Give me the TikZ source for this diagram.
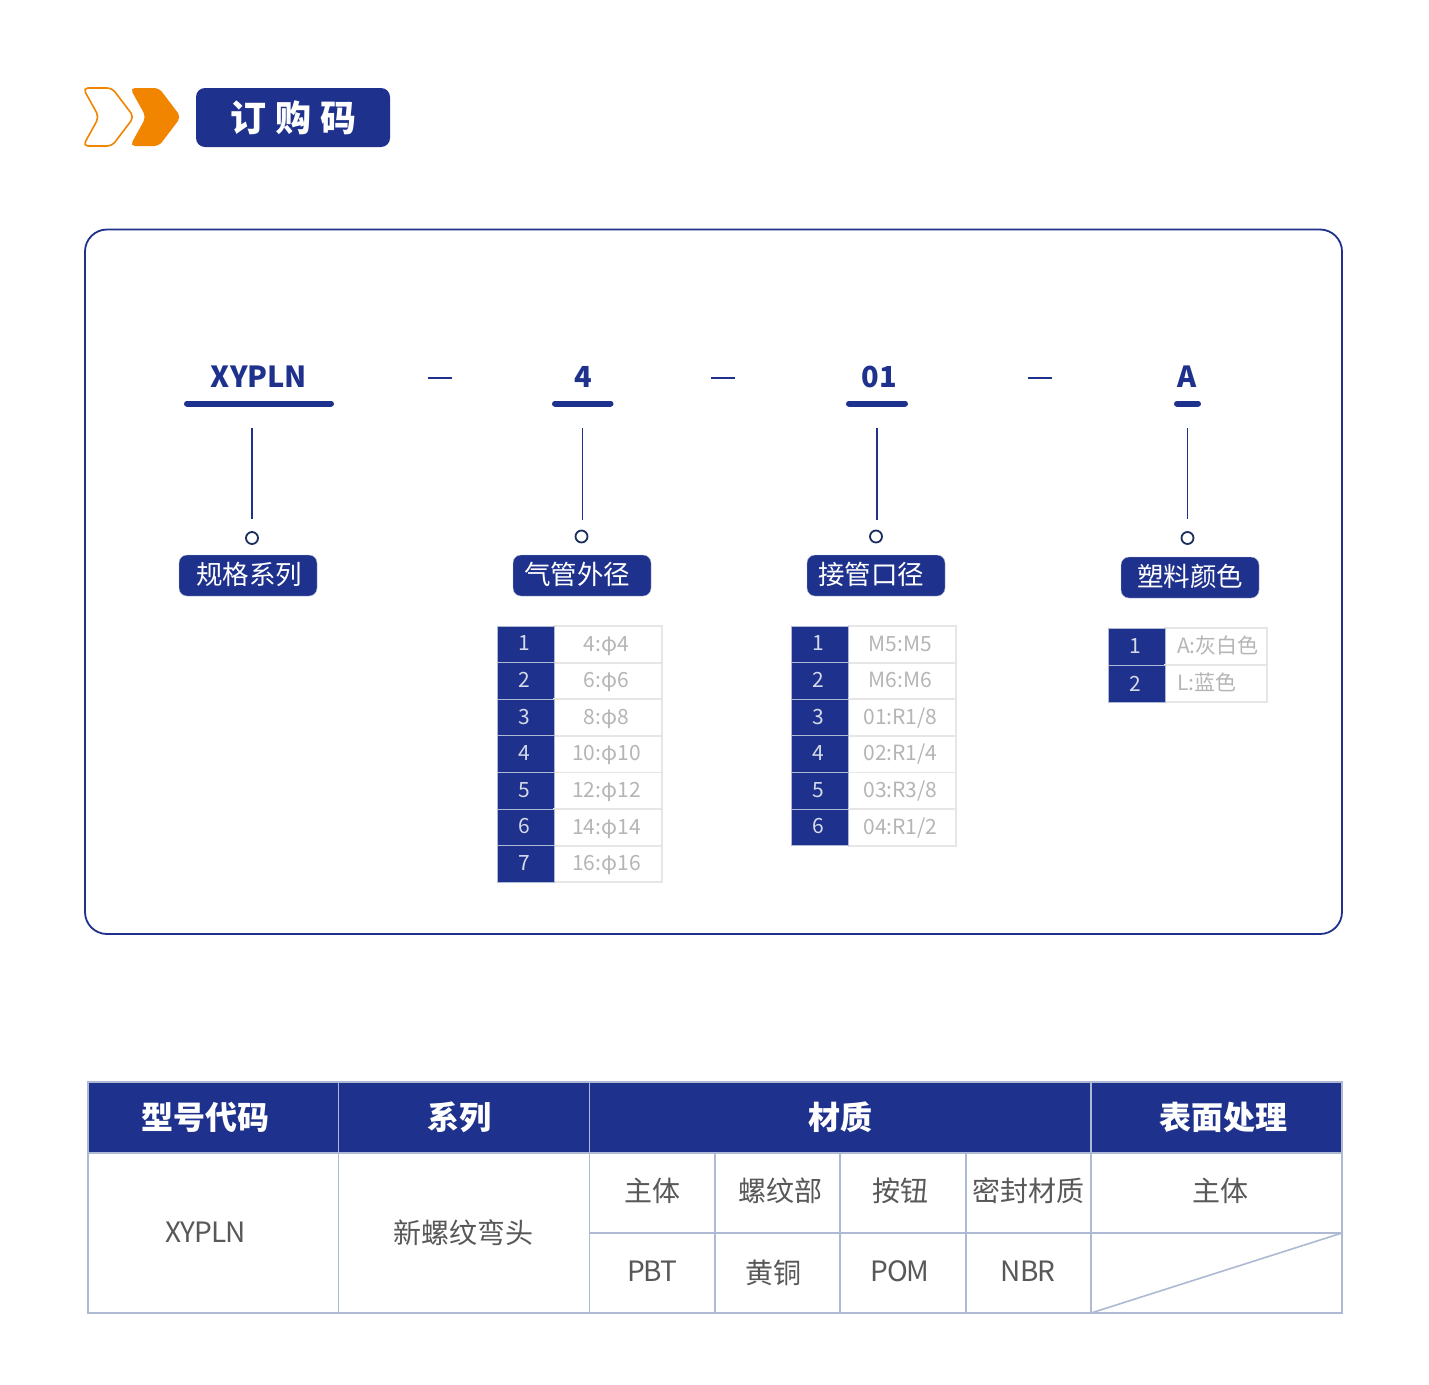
\documentclass[tikz,border=0pt]{standalone}
\usepackage{fontspec}
\setmainfont{Noto Sans CJK SC}
\usepackage{xcolor}
\usetikzlibrary{positioning}
\definecolor{navy}{HTML}{1E318C}
\definecolor{accent}{HTML}{F28500}
\definecolor{gridline}{HTML}{AEB9D4}
\definecolor{cellline}{HTML}{E6E6E6}
\definecolor{valuegray}{HTML}{B5B5B5}
\definecolor{bodygray}{HTML}{595757}
\definecolor{digitgray}{HTML}{D5DAEA}
\definecolor{dotline}{HTML}{1B2F5E}
\tikzset{
  code/.style={text=navy, inner sep=0pt, font=\fontsize{29}{29}\selectfont\bfseries},
  codebar/.style={draw=navy, line width=6pt, line cap=round},
  sep/.style={draw=navy, line width=1.6pt},
  stem/.style={draw=navy, line width=1.6pt},
  dot/.style={circle, draw=dotline, line width=1.8pt, minimum size=12pt, inner sep=0pt},
  tag/.style={fill=navy, draw=gridline, line width=0.4pt, rounded corners=8pt, minimum width=138pt, minimum height=41pt, inner sep=0pt},
  tagtext/.style={text=white, inner sep=0pt, font=\fontsize{26.5}{28}\selectfont},
  digit/.style={text=digitgray, inner sep=0pt, font=\fontsize{21}{21}\selectfont},
  value/.style={text=valuegray, inner sep=0pt, text height=15pt, text depth=0pt, font=\fontsize{21}{21}\selectfont},
  head/.style={text=white, inner sep=0pt, font=\fontsize{32}{32}\selectfont\bfseries},
  body/.style={text=bodygray, inner sep=0pt, font=\fontsize{28}{28}\selectfont},
  latin/.style={body, font=\fontsize{28}{28}\selectfont\addfontfeature{LetterSpace=-4}},
  grid/.style={draw=gridline, line width=1.6pt},
}
\begin{document}
\begin{tikzpicture}[x=1pt, y=-1pt]
\useasboundingbox [fill=white] (0,0) rectangle (1429,1384);

\draw [accent, line width=1.6pt, rounded corners=5pt] (83,88) -- (112,88) -- (134,117) -- (112,146) -- (83,146) -- (99,117) -- cycle;
\fill [accent, rounded corners=5pt] (130,88) -- (159,88) -- (181,117) -- (159,146) -- (130,146) -- (146,117) -- cycle;
\node (title) at (293,117.5) [fill=navy, rounded corners=9pt, minimum width=194pt, minimum height=59pt, inner sep=0pt, text=white, font=\fontsize{36}{36}\selectfont\bfseries] {订\hspace{9pt}购\hspace{9pt}码};

\draw [navy, line width=1.8pt, rounded corners=22pt] (85,229.5) rectangle (1342,934);

\node (codeA) at (259,377) [code] {XYPLN};
\node (codeB) at (583,377) [code] {4};
\node (codeC) at (879,377) [code] {01};
\node (codeD) at (1187.5,377) [code] {A};

\draw [codebar] (187,403.5) -- (331,403.5);
\draw [codebar] (555,403.5) -- (610.5,403.5);
\draw [codebar] (849,403.5) -- (905,403.5);
\draw [codebar] (1177,403.5) -- (1198,403.5);

\draw [sep] (428,378) -- (452,378);
\draw [sep] (711,378) -- (735,378);
\draw [sep] (1028,378) -- (1052,378);

\coordinate (topA) at (252,428);
\coordinate (topB) at (582.5,428);
\coordinate (topC) at (877,428);
\coordinate (topD) at (1187.5,428);
\node (dotA) at (252,538) [dot] {};
\node (dotB) at (581.5,536.5) [dot] {};
\node (dotC) at (876,536.5) [dot] {};
\node (dotD) at (1187.5,538) [dot] {};
\draw [stem] (topA) -- ([yshift=12pt]dotA.north);
\draw [stem] (topB) -- ([xshift=1pt,yshift=10pt]dotB.north);
\draw [stem] (topC) -- ([xshift=1pt,yshift=10pt]dotC.north);
\draw [stem] (topD) -- ([yshift=12pt]dotD.north);

\node (tagA) at (248,575.5) [tag] {};
\node (tagB) at (582,575.5) [tag] {};
\node (tagC) at (876,575.5) [tag] {};
\node (tagD) at (1190,577.5) [tag] {};
\node (tagtextA) at (249,574) [tagtext] {规格系列};
\node (tagtextB) at (577,574) [tagtext] {气管外径};
\node (tagtextC) at (871,574) [tagtext] {接管口径};
\node (tagtextD) at (1190,576) [tagtext] {塑料颜色};

\foreach \val [count=\n, evaluate=\n as \top using 626+36.6*(\n-1)] in {4:φ4,6:φ6,8:φ8,10:φ10,12:φ12,14:φ14,16:φ16} {
  \draw [cellline, line width=1.8pt] (554,\top) rectangle (662,\top+36.6);
  \fill [navy] (497.5,\top) rectangle (554,\top+36.6);
  \draw [gridline, line width=1pt] (497.5,\top) rectangle (554,\top+36.6);
  \node (sizeNo\n) at (524.5,\top+17.5) [digit] {\n};
  \node (sizeVal\n) at (606.5,\top+17.5) [value] {\val};
}

\foreach \val [count=\n, evaluate=\n as \top using 626+36.6*(\n-1)] in {M5:M5,M6:M6,01:R1/8,02:R1/4,03:R3/8,04:R1/2} {
  \draw [cellline, line width=1.8pt] (848.5,\top) rectangle (956,\top+36.6);
  \fill [navy] (791.5,\top) rectangle (848.5,\top+36.6);
  \draw [gridline, line width=1pt] (791.5,\top) rectangle (848.5,\top+36.6);
  \node (portNo\n) at (818.5,\top+17.5) [digit] {\n};
  \node (portVal\n) at (900.5,\top+17.5) [value] {\val};
}

\foreach \n/\top in {1/628,2/665} {
  \draw [cellline, line width=1.8pt] (1165,\top) rectangle (1267,\top+37);
  \fill [navy] (1108,\top) rectangle (1165,\top+37);
  \draw [gridline, line width=1pt] (1108,\top) rectangle (1165,\top+37);
  \node (colorNo\n) at (1135,\top+18.5) [digit] {\n};
}
\node (colorValA) at (1177,646) [value, anchor=west] {A:灰白色};
\node (colorValB) at (1177,683) [value, anchor=west] {L:蓝色};

\fill [navy] (88,1082) rectangle (1342,1153);
\draw [grid] (88,1082) rectangle (1342,1313);
\draw [grid] (88,1153) -- (1342,1153);
\draw [grid] (589.5,1233) -- (1342,1233);
\draw [grid] (338.5,1082) -- (338.5,1313);
\draw [grid] (589.5,1082) -- (589.5,1313);
\draw [grid] (1091,1082) -- (1091,1313);
\draw [grid] (715,1153) -- (715,1313);
\draw [grid] (840,1153) -- (840,1313);
\draw [grid] (966,1153) -- (966,1313);
\draw [grid] (1091,1313) -- (1342,1233);

\node (headA) at (205,1117) [head] {型号代码};
\node (headB) at (459,1117) [head] {系列};
\node (headC) at (840,1117) [head] {材质};
\node (headD) at (1223.5,1117) [head] {表面处理};

\node (model) at (205.5,1232.5) [latin] {XYPLN};
\node (series) at (463.5,1233) [body] {新螺纹弯头};
\node (partA) at (652,1191) [body] {主体};
\node (partB) at (780.5,1191) [body] {螺纹部};
\node (partC) at (900,1191) [body] {按钮};
\node (partD) at (1028,1191) [body] {密封材质};
\node (partE) at (1220,1191) [body] {主体};
\node (matA) at (652,1271) [latin] {PBT};
\node (matB) at (773,1273) [body] {黄铜};
\node (matC) at (900,1271) [latin] {POM};
\node (matD) at (1028,1271) [latin] {NBR};
\end{tikzpicture}
\end{document}
